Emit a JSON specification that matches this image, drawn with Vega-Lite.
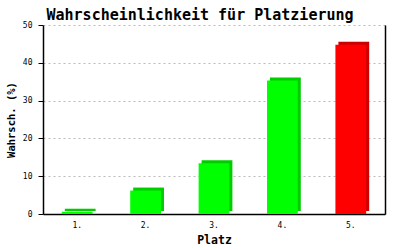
{
  "$schema": "https://vega.github.io/schema/vega-lite/v6.json",
  "autosize": {"type": "none"},
  "width": 342,
  "height": 189,
  "padding": {"left": 43, "top": 25, "right": 15, "bottom": 36},
  "background": "white",
  "config": {
    "view": {"stroke": null},
    "font": "DejaVu Sans Mono",
    "axis": {"labelFont": "DejaVu Sans Mono", "titleFont": "DejaVu Sans Mono", "labelColor": "black", "titleColor": "black"}
  },
  "title": {
    "text": "Wahrscheinlichkeit für Platzierung",
    "font": "DejaVu Sans Mono",
    "fontSize": 15,
    "fontWeight": "bold",
    "color": "black",
    "anchor": "middle",
    "dx": -14,
    "offset": -2
  },
  "data": {
    "values": [
      {"Platz": "1.", "Wert": 0.6, "Gruppe": "andere"},
      {"Platz": "2.", "Wert": 6.2, "Gruppe": "andere"},
      {"Platz": "3.", "Wert": 13.4, "Gruppe": "andere"},
      {"Platz": "4.", "Wert": 35.3, "Gruppe": "andere"},
      {"Platz": "5.", "Wert": 44.8, "Gruppe": "höchste"}
    ]
  },
  "encoding": {
    "x": {
      "field": "Platz",
      "type": "ordinal",
      "sort": null,
      "scale": {"paddingInner": 0.55, "paddingOuter": 0.275},
      "axis": {
        "title": "Platz",
        "titleFontSize": 11.5,
        "titleFontWeight": "bold",
        "titleAnchor": "middle",
        "titlePadding": 5,
        "labelAngle": 0,
        "labelFontSize": 8,
        "labelPadding": 7,
        "ticks": false,
        "domainColor": "black",
        "domainWidth": 1.5,
        "grid": false
      }
    }
  },
  "layer": [
    {
      "mark": {"type": "bar", "xOffset": 3, "yOffset": -3},
      "encoding": {
        "y": {
          "field": "Wert",
          "type": "quantitative",
          "scale": {"domain": [0, 50]},
          "axis": {
            "title": "Wahrsch. (%)",
            "titleFontSize": 10.5,
            "titleFontWeight": "bold",
            "titlePadding": 6,
            "values": [0, 10, 20, 30, 40, 50],
            "labelFontSize": 8,
            "labelPadding": 6,
            "tickSize": 5,
            "tickColor": "black",
            "domainColor": "black",
            "domainWidth": 1.5,
            "gridColor": "#bbbbbb",
            "gridDash": [2, 3],
            "gridWidth": 1
          }
        },
        "color": {
          "field": "Gruppe",
          "type": "nominal",
          "scale": {"domain": ["andere", "höchste"], "range": ["#00cc00", "#cc0000"]},
          "legend": null
        }
      }
    },
    {
      "mark": {"type": "bar"},
      "encoding": {
        "y": {
          "field": "Wert",
          "type": "quantitative",
          "axis": {
            "orient": "right",
            "title": null,
            "labels": false,
            "ticks": false,
            "grid": false,
            "domainColor": "black",
            "domainWidth": 1.5
          }
        },
        "fill": {
          "field": "Gruppe",
          "type": "nominal",
          "scale": {"domain": ["andere", "höchste"], "range": ["#00ff00", "#ff0000"]},
          "legend": null
        }
      }
    }
  ],
  "resolve": {"axis": {"y": "independent"}}
}
